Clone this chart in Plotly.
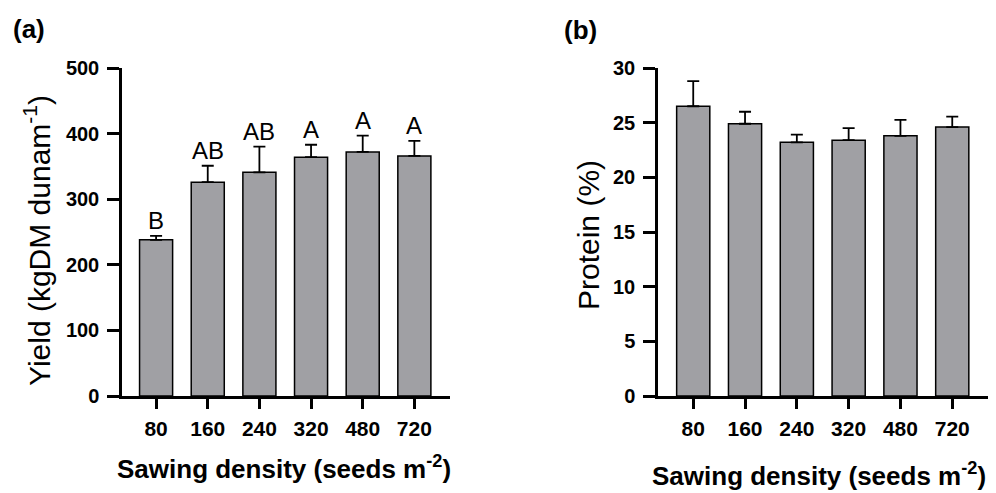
import plotly.graph_objects as go

categories = ["80", "160", "240", "320", "480", "720"]
yield_mean = [238, 326, 341, 364, 372, 366]
yield_err = [6, 25, 39, 19, 25, 23]
yield_letters = ["B", "AB", "AB", "A", "A", "A"]
protein_mean = [26.5, 24.9, 23.2, 23.4, 23.8, 24.6]
protein_err = [2.3, 1.1, 0.7, 1.1, 1.45, 0.95]
yield_ticks = [0, 100, 200, 300, 400, 500]
protein_ticks = [0, 5, 10, 15, 20, 25, 30]

W, H = 996, 493
FONT = "Liberation Sans, Arial, sans-serif"
BAR = "#a0a0a4"

def px(x):
    return x / W

def py(y):
    return (H - y) / H

fig = go.Figure()
for mean, err, xa, ya in [(yield_mean, yield_err, "x", "y"),
                          (protein_mean, protein_err, "x2", "y2")]:
    fig.add_trace(go.Bar(
        x=categories, y=mean, xaxis=xa, yaxis=ya, width=0.64,
        marker=dict(color=BAR, line=dict(color="black", width=1.5)),
        error_y=dict(type="data", symmetric=False, array=err,
                     arrayminus=[0] * len(err), color="black",
                     thickness=1.8, width=6),
        showlegend=False, hoverinfo="skip",
    ))

xcommon = dict(type="category", showline=True, linecolor="black", linewidth=2.5,
               ticks="outside", ticklen=10, tickwidth=2.5, tickcolor="black",
               tickfont=dict(family=FONT, size=21, color="black", weight="bold"),
               showgrid=False, zeroline=False, ticklabelstandoff=2, automargin=False)
ycommon = dict(showline=True, linecolor="black", linewidth=2.5,
               ticks="outside", ticklen=12, tickwidth=2.5, tickcolor="black",
               tickfont=dict(family=FONT, size=20, color="black", weight="bold"),
               showgrid=False, zeroline=False, ticklabelstandoff=4, automargin=False)

fig.update_layout(
    template="none",
    width=W, height=H, autosize=False,
    margin=dict(l=0, r=0, t=0, b=0, pad=0),
    paper_bgcolor="white", plot_bgcolor="white",
    xaxis=dict(domain=[px(122), px(450)], range=[-0.66, 5.69], anchor="y", **xcommon),
    yaxis=dict(domain=[py(396), py(68)], range=[0, 500], tickvals=yield_ticks,
               anchor="x", **ycommon),
    xaxis2=dict(domain=[px(658), px(988)], range=[-0.68, 5.69], anchor="y2", **xcommon),
    yaxis2=dict(domain=[py(396), py(68)], range=[0, 30], tickvals=protein_ticks,
                anchor="x2", **ycommon),
)

ann = []
for i, (m, e, t) in enumerate(zip(yield_mean, yield_err, yield_letters)):
    ann.append(dict(x=i, y=m + e, xref="x", yref="y", text=t, showarrow=False,
                    xanchor="center", yanchor="bottom", yshift=0,
                    font=dict(family=FONT, size=24, color="black")))

def pann(x, y, text, size, angle=0):
    return dict(x=px(x), y=py(y), xref="paper", yref="paper", text=text,
                xanchor="center", yanchor="middle", textangle=angle,
                showarrow=False, font=dict(family=FONT, size=size, color="black"))

ann += [
    pann(29, 29, "<b>(a)</b>", 26),
    pann(580, 30, "<b>(b)</b>", 26),
    pann(284, 467, "<b>Sawing density (seeds m<sup>-2</sup>)</b>", 26),
    pann(819, 474, "<b>Sawing density (seeds m<sup>-2</sup>)</b>", 26),
    pann(37, 241, "Yield (kgDM dunam<sup>-1</sup>)", 30, -90),
    pann(588, 235, "Protein (%)", 30, -90),
]
fig.update_layout(annotations=ann)

fig.write_html("out.html", config={"displayModeBar": False},
               post_script="document.body.style.margin='0px';")
